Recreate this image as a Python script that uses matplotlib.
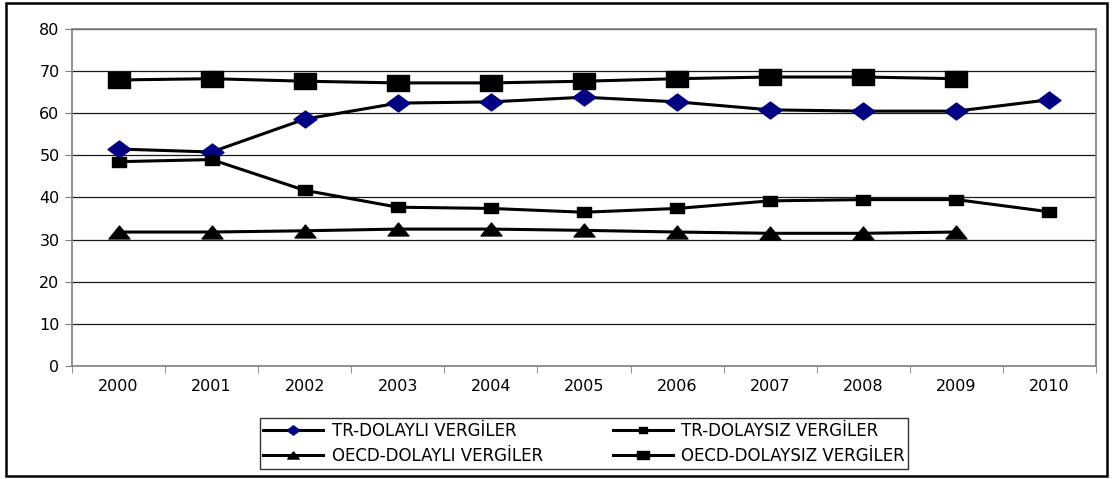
import matplotlib
matplotlib.use('Agg')
import matplotlib.pyplot as plt
from matplotlib.path import Path
from matplotlib.patches import Rectangle

plt.rcParams['font.family'] = ['DejaVu Sans']

# Tax shares (%), 2000-2010
years = ['2000', '2001', '2002', '2003', '2004', '2005', '2006', '2007', '2008', '2009', '2010']
tr_dolayli = [51.5, 50.8, 58.6, 62.4, 62.7, 63.8, 62.7, 60.8, 60.5, 60.5, 63.2]
tr_dolaysiz = [48.5, 49.0, 41.7, 37.7, 37.4, 36.5, 37.4, 39.2, 39.5, 39.5, 36.6]
oecd_dolayli = [31.8, 31.8, 32.1, 32.5, 32.5, 32.2, 31.8, 31.5, 31.5, 31.8]
oecd_dolaysiz = [67.9, 68.2, 67.6, 67.2, 67.2, 67.6, 68.2, 68.6, 68.6, 68.2]

# slightly flattened marker shapes
diamond = Path([(-1, 0), (0, 0.74), (1, 0), (0, -0.74), (-1, 0)], closed=True)
rect = Path([(-1, -0.72), (1, -0.72), (1, 0.72), (-1, 0.72), (-1, -0.72)], closed=True)
tri = Path([(-1, -0.62), (1, -0.62), (0, 0.62), (-1, -0.62)], closed=True)

fig = plt.figure(figsize=(11.13, 4.79), dpi=100)
ax = fig.add_axes([0.0647, 0.2359, 0.92, 0.7036])

x = list(range(len(years)))
lw = 2.2
l1, = ax.plot(x, tr_dolayli, color='black', lw=lw, marker=diamond, ms=16.5,
              mfc='#000080', mec='#000080', label='TR-DOLAYLI VERGİLER', zorder=4)
l2, = ax.plot(x, tr_dolaysiz, color='black', lw=lw, marker=rect, ms=9.5,
              mfc='black', mec='black', label='TR-DOLAYSIZ VERGİLER', zorder=4)
l3, = ax.plot(x[:len(oecd_dolayli)], oecd_dolayli, color='black', lw=lw, marker=tri, ms=15,
              mfc='black', mec='black', label='OECD-DOLAYLI VERGİLER', zorder=4)
l4, = ax.plot(x[:len(oecd_dolaysiz)], oecd_dolaysiz, color='black', lw=lw, marker=rect, ms=16,
              mfc='black', mec='black', label='OECD-DOLAYSIZ VERGİLER', zorder=4)

ax.set_xlim(-0.5, len(years) - 0.5)
ax.set_ylim(0, 80)
ax.set_yticks(range(0, 81, 10))
ax.set_xticks(x)
ax.set_xticklabels(years)
ax.set_xticks([i - 0.5 for i in range(len(years) + 1)], minor=True)
ax.tick_params(axis='x', which='major', length=0, pad=9, labelsize=11.5)
ax.tick_params(axis='x', which='minor', length=5, color='#808080', direction='out')
ax.tick_params(axis='y', length=5, color='#808080', direction='out', labelsize=11.5, pad=4)

ax.grid(axis='y', color='#1a1a1a', lw=0.9)
ax.set_axisbelow(True)
for side in ['left', 'bottom', 'right', 'top']:
    ax.spines[side].set_color('#808080')
    ax.spines[side].set_linewidth(1.2)

leg = fig.legend(handles=[l1, l3, l2, l4], ncol=2, loc='center',
                 bbox_to_anchor=(0.5247, 0.0741), bbox_transform=fig.transFigure,
                 fontsize=12, frameon=True, fancybox=False, edgecolor='black',
                 markerscale=0.55, handlelength=3.6, handletextpad=0.5,
                 columnspacing=4.2, labelspacing=0.45, borderpad=0.2, borderaxespad=0)
leg.get_frame().set_linewidth(1.0)

# outer chart border
fig.patches.append(Rectangle((0.005, 0.006), 0.99, 0.988, transform=fig.transFigure,
                             fill=False, edgecolor='black', lw=1.8))

fig.savefig('out.png', dpi=100)
